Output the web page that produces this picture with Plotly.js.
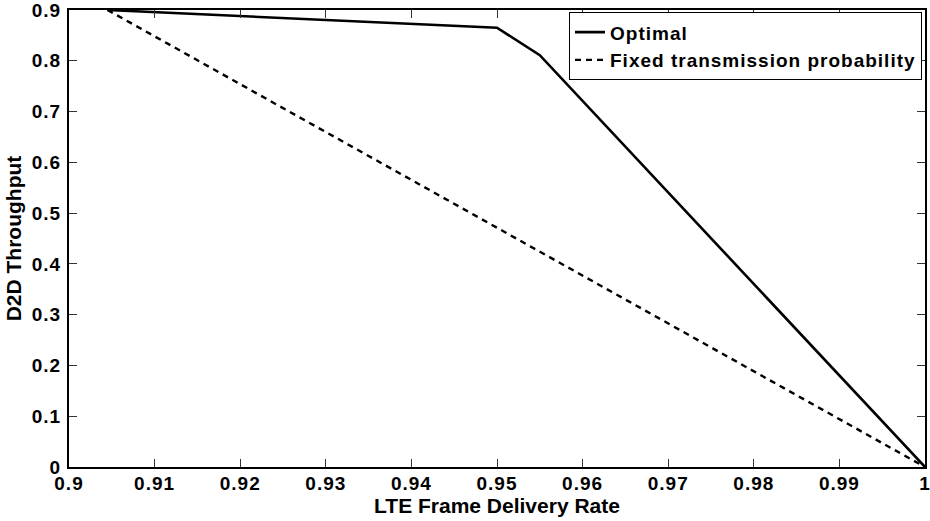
<!DOCTYPE html>
<html>
<head>
<meta charset="utf-8">
<script src="https://cdn.plot.ly/plotly-3.0.1.min.js"></script>
<style>
  html, body { margin: 0; padding: 0; background: #fff; }
  #chart { width: 930px; height: 521px; }
  /* slightly wide, tracked bold lettering for legend and tick labels */
  .legendtext { letter-spacing: 1px; }
  .xtick text, .ytick text { letter-spacing: 1px; }
</style>
</head>
<body>
<div id="chart"></div>
<script>
// LTE frame delivery rate vs. D2D throughput
const optimalRate = [0.9045, 0.95, 0.955, 1.0];
const optimalThroughput = [0.9, 0.865, 0.811, 0.0];

const fixedRate = [0.9045, 0.95, 1.0];
const fixedThroughput = [0.9, 0.471, 0.0];

const seriesNames = ['Optimal', 'Fixed transmission probability'];

const xTickVals = [0.9, 0.91, 0.92, 0.93, 0.94, 0.95, 0.96, 0.97, 0.98, 0.99, 1.0];
const xTickText = ['0.9', '0.91', '0.92', '0.93', '0.94', '0.95', '0.96', '0.97', '0.98', '0.99', '1'];
const yTickVals = [0, 0.1, 0.2, 0.3, 0.4, 0.5, 0.6, 0.7, 0.8, 0.9];
const yTickText = ['0', '0.1', '0.2', '0.3', '0.4', '0.5', '0.6', '0.7', '0.8', '0.9'];

const FONT = 'Liberation Sans, Arial, Helvetica, sans-serif';

const traces = [
  {
    x: optimalRate, y: optimalThroughput, name: seriesNames[0],
    type: 'scatter', mode: 'lines',
    line: { color: '#000', width: 2.6 }
  },
  {
    x: fixedRate, y: fixedThroughput, name: seriesNames[1],
    type: 'scatter', mode: 'lines',
    line: { color: '#000', width: 2.4, dash: '6px,5px' }
  }
];

const axisCommon = {
  showgrid: false,
  zeroline: false,
  showline: true,
  linecolor: '#000',
  linewidth: 2,
  mirror: 'ticks',
  ticks: 'inside',
  ticklen: 8,
  tickwidth: 1,
  tickcolor: '#333',
  tickmode: 'array',
  ticklabeloverflow: 'allow',
  tickfont: { family: FONT, size: 19, weight: 'bold', color: '#000' }
};

const layout = {
  width: 930, height: 521,
  margin: { l: 69, r: 5, t: 10, b: 54 },
  paper_bgcolor: '#fff',
  plot_bgcolor: '#fff',
  showlegend: true,
  legend: {
    x: 0.9965, xanchor: 'right',
    y: 0.995, yanchor: 'top',
    bgcolor: '#fff',
    bordercolor: '#000',
    borderwidth: 1,
    font: { family: FONT, size: 19, weight: 'bold', color: '#000' },
    tracegroupgap: 0
  },
  xaxis: Object.assign({}, axisCommon, {
    range: [0.9, 1.0],
    tickvals: xTickVals,
    ticktext: xTickText,
    ticklabelstandoff: -2,
    title: {
      text: 'LTE Frame Delivery Rate',
      font: { family: FONT, size: 21, weight: 'bold', color: '#000' },
      standoff: 0
    }
  }),
  yaxis: Object.assign({}, axisCommon, {
    range: [0, 0.9],
    tickvals: yTickVals,
    ticktext: yTickText,
    ticklabelstandoff: 2,
    title: {
      text: 'D2D Throughput',
      font: { family: FONT, size: 21, weight: 'bold', color: '#000' },
      standoff: 4
    }
  })
};

Plotly.newPlot('chart', traces, layout, { staticPlot: true, displayModeBar: false });
</script>
</body>
</html>
